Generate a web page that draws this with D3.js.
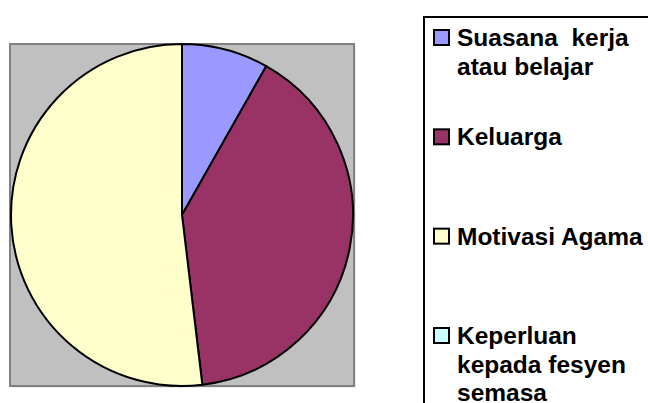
<!DOCTYPE html>
<html>
<head>
<meta charset="utf-8">
<script src="https://cdn.jsdelivr.net/npm/d3@7"></script>
<style>
  body { margin: 0; background: #fff; }
  svg { display: block; }
</style>
</head>
<body>
<svg width="648" height="403"></svg>
<script>
// data (percent)
const categories = ["Suasana  kerja atau belajar", "Keluarga", "Motivasi Agama", "Keperluan kepada fesyen semasa"];
const values = [8.2, 39.9, 51.9, 0];
const colors = ["#9999FF", "#993366", "#FFFFCC", "#CCFFFF"];

const svg = d3.select("svg");

// plot area
const plot = { x: 10, y: 44, w: 344, h: 342 };
svg.append("rect")
    .attr("x", plot.x + 1.5).attr("y", plot.y + 1.5)
    .attr("width", plot.w).attr("height", plot.h)
    .attr("fill", "#d8d8d8");
svg.append("rect")
    .attr("x", plot.x).attr("y", plot.y)
    .attr("width", plot.w).attr("height", plot.h)
    .attr("fill", "#C0C0C0")
    .attr("stroke", "#808080")
    .attr("stroke-width", 2);

const cx = 182, cy = 215, r = 171;

const pie = d3.pie().sort(null).value(d => d.v);
const arc = d3.arc().innerRadius(0).outerRadius(r);

const slices = pie(categories.map((c, i) => ({ c: c, v: values[i], col: colors[i] })));

svg.append("g")
    .attr("transform", "translate(" + cx + "," + cy + ")")
    .selectAll("path")
    .data(slices.filter(d => d.data.v > 0))
    .enter()
    .append("path")
    .attr("d", arc)
    .attr("fill", d => d.data.col)
    .attr("stroke", "#000")
    .attr("stroke-width", 2)
    .attr("stroke-linejoin", "round");

// legend
svg.append("rect")
    .attr("x", 424).attr("y", 17)
    .attr("width", 260).attr("height", 420)
    .attr("fill", "#fff")
    .attr("stroke", "#000")
    .attr("stroke-width", 2);

const ly = d3.scalePoint().domain(categories).range([46, 344]);
const lineH = 28.5;
const maxW = 192;

const items = svg.append("g").selectAll("g")
    .data(categories)
    .enter()
    .append("g")
    .attr("transform", d => "translate(0," + ly(d) + ")");

items.append("rect")
    .attr("x", 434).attr("y", -16)
    .attr("width", 15).attr("height", 15)
    .attr("fill", (d, i) => colors[i])
    .attr("stroke", "#000")
    .attr("stroke-width", 2);

items.each(function (d) {
  const g = d3.select(this);
  const txt = g.append("text")
      .attr("x", 457).attr("y", 0)
      .style("font-family", "'Liberation Sans', Arial, sans-serif")
      .style("font-weight", "bold")
      .style("font-size", "24.5px")
      .style("white-space", "pre")
      .attr("fill", "#000");
  // simple word wrap
  const words = d.split(" ");
  let lines = [], cur = "";
  const probe = txt.append("tspan");
  words.forEach(w => {
    const test = cur === "" ? w : cur + " " + w;
    probe.text(test);
    if (probe.node().getComputedTextLength() > maxW && cur !== "") {
      lines.push(cur);
      cur = w;
    } else {
      cur = test;
    }
  });
  lines.push(cur);
  probe.remove();
  lines.forEach((l, k) => {
    txt.append("tspan").attr("x", 457).attr("y", k * lineH).text(l);
  });
});
</script>
</body>
</html>
